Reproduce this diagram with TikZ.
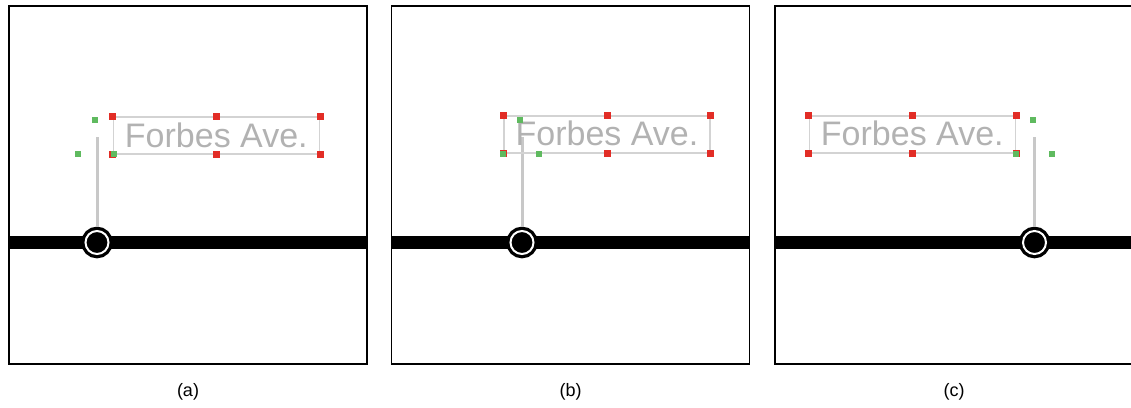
\documentclass[tikz,border=0pt]{standalone}
\usepackage{fontspec}
\setsansfont{Liberation Sans}
\definecolor{handlered}{RGB}{226,45,38}
\definecolor{handlegreen}{RGB}{95,186,95}
\definecolor{leadergray}{RGB}{200,200,200}
\definecolor{labelgray}{RGB}{178,178,178}
\begin{document}
\begin{tikzpicture}[x=1pt,y=-1pt,
	frame/.style={draw=black,line width=1.4pt},
	route/.style={draw=black,line width=13pt},
	stop/.style={circle,fill=black,draw=black,double=white,double distance=2pt,line width=3.3pt,minimum size=23pt,inner sep=0pt,outer sep=4.3pt},
	leader/.style={draw=leadergray,line width=3pt},
	streetlabel/.style={draw=leadergray!80,line width=1.5pt,text=labelgray,font=\sffamily\fontsize{34}{34}\selectfont,minimum width=206pt,minimum height=37pt,inner sep=0pt,text height=23pt,text depth=0pt},
	redhandle/.style={fill=handlered,minimum size=7pt,inner sep=0pt},
	greenhandle/.style={fill=handlegreen,minimum size=6pt,inner sep=0pt},
	caption/.style={font=\sffamily\fontsize{18}{18}\selectfont}]
	\useasboundingbox (0,0) rectangle (1131,407);
	% Khung + tuyến đường
	\def\drawpanel#1#2{
		\begin{scope}[shift={(#1,0)}]
			\draw[route] (0,242.5) -- (358,242.5);
			\draw[frame] (0,6) rectangle (358,364);
			\node[caption] (cap#2) at (179,392) {(#2)};
		\end{scope}
	}
	% Ga, đường dẫn và nhãn phố
	\def\drawstop#1#2#3#4{
		\node[stop] (s#1) at (#2,242.5) {};
		\coordinate (l#1) at (#2,136.7);
		\draw[leader] (s#1.north) -- (l#1);
		\node[streetlabel] (f#1) at (#3,#4) {Forbes Ave.};
		% Điểm neo đỏ
		\foreach \a/\n in {north west/nw,north/n,north east/ne,south west/sw,south/s,south east/se}
			\node[redhandle] (r#1\n) at (f#1.\a) {};
		% Điểm neo xanh
		\node[greenhandle] (g#1t) at ([shift={(-2,-17)}]l#1) {};
		\node[greenhandle] (g#1l) at ([shift={(-19,17)}]l#1) {};
		\node[greenhandle] (g#1r) at ([shift={(17,17)}]l#1) {};
	}
	% Vẽ 3 khung
	\drawpanel{9}{a}
	\drawpanel{391.5}{b}
	\drawpanel{775}{c}
	% Vẽ 3 vị trí nhãn
	\drawstop{a}{97}{216.3}{135.5}
	\drawstop{b}{522}{607}{134.3}
	\drawstop{c}{1034.5}{912.3}{134.3}
\end{tikzpicture}
\end{document}
